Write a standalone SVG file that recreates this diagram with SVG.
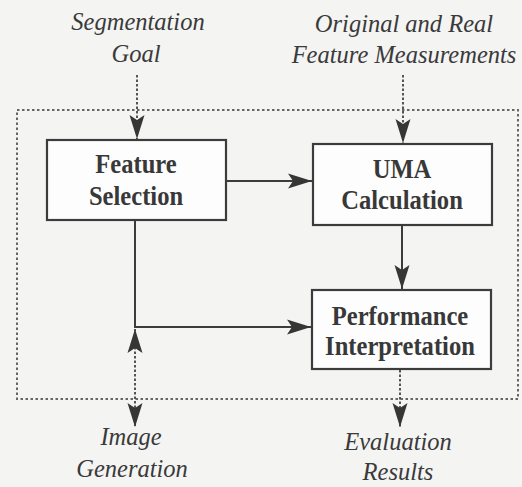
<svg xmlns="http://www.w3.org/2000/svg" width="522" height="487" viewBox="0 0 522 487">
<defs>
<style>
.box{fill:#fdfdfd;stroke:#3c3c3c;stroke-width:2.2}
.bt{font-family:'Liberation Serif',serif;font-weight:bold;font-size:24.6px;fill:#383838;text-anchor:middle}
.it{font-family:'Liberation Serif',serif;font-style:italic;font-size:24.5px;fill:#3a3a3a;text-anchor:middle}
.solid{fill:none;stroke:#3c3c3c;stroke-width:2}
.dash{fill:none;stroke:#555;stroke-width:2;stroke-dasharray:2.5 2}
.frame{fill:none;stroke:#666;stroke-width:2;stroke-dasharray:2.5 2.5}
</style>
<marker id="ah" markerUnits="userSpaceOnUse" markerWidth="26" markerHeight="18" refX="24" refY="9" orient="auto-start-reverse" viewBox="0 0 26 18">
<path d="M0,1.5 L24,9 L0,16.5 L5,9 Z" fill="#363636"/>
</marker>
</defs>
<rect width="522" height="487" fill="#f4f4f3"/>
<rect class="frame" x="17" y="110" width="501" height="289"/>
<g id="connectors">
<line class="dash" x1="137" y1="75" x2="137" y2="139" marker-end="url(#ah)"/>
<line class="dash" x1="403" y1="75" x2="403" y2="143" marker-end="url(#ah)"/>
<line class="solid" x1="226" y1="181" x2="312" y2="181" marker-end="url(#ah)"/>
<line class="solid" x1="402" y1="225" x2="402" y2="289" marker-end="url(#ah)"/>
<polyline class="solid" points="135,220 135,327 311,327" marker-end="url(#ah)"/>
<line class="dash" x1="135" y1="329" x2="135" y2="427" marker-start="url(#ah)" marker-end="url(#ah)"/>
<line class="dash" x1="400" y1="370" x2="400" y2="427" marker-end="url(#ah)"/>
</g>
<g id="feature-selection">
<rect class="box" x="47" y="140" width="179" height="80"/>
<text class="bt" transform="translate(136,173) scale(1,1.12)">Feature</text>
<text class="bt" transform="translate(136,205) scale(1,1.12)">Selection</text>
</g>
<g id="uma-calculation">
<rect class="box" x="313" y="144" width="179" height="81"/>
<text class="bt" transform="translate(402,178) scale(1,1.12)">UMA</text>
<text class="bt" transform="translate(402,209) scale(1,1.12)">Calculation</text>
</g>
<g id="performance-interpretation">
<rect class="box" x="312" y="290" width="179" height="79"/>
<text class="bt" transform="translate(400,325) scale(1,1.12)">Performance</text>
<text class="bt" transform="translate(400,355) scale(1,1.12)">Interpretation</text>
</g>
<g id="segmentation-goal">
<text class="it" x="138" y="30">Segmentation</text>
<text class="it" x="136" y="62">Goal</text>
</g>
<g id="feature-measurements">
<text class="it" x="404" y="32">Original and Real</text>
<text class="it" x="404" y="63">Feature Measurements</text>
</g>
<g id="image-generation">
<text class="it" x="131" y="445">Image</text>
<text class="it" x="132" y="477">Generation</text>
</g>
<g id="evaluation-results">
<text class="it" x="398" y="450">Evaluation</text>
<text class="it" x="398" y="480">Results</text>
</g>
</svg>
